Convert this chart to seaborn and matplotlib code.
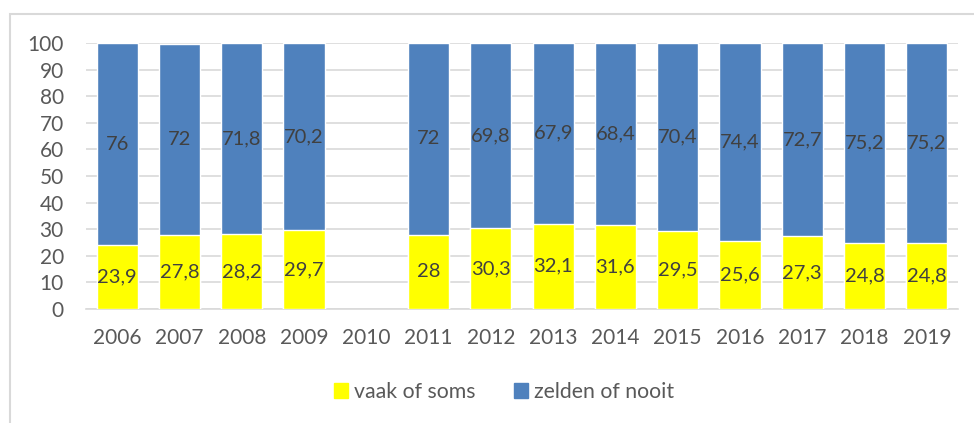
import matplotlib
matplotlib.use("Agg")
import matplotlib.pyplot as plt
import seaborn as sns
import numpy as np
import pandas as pd
from matplotlib.patches import Rectangle, Patch

# dati
jaren = ["2006", "2007", "2008", "2009", "2010", "2011", "2012",
         "2013", "2014", "2015", "2016", "2017", "2018", "2019"]
vaak = [23.9, 27.8, 28.2, 29.7, np.nan, 28, 30.3, 32.1, 31.6, 29.5, 25.6, 27.3, 24.8, 24.8]
zelden = [76, 72, 71.8, 70.2, np.nan, 72, 69.8, 67.9, 68.4, 70.4, 74.4, 72.7, 75.2, 75.2]

geel = "#FFFF00"
blauw = "#4F81BD"
tekst = "#595959"

df = pd.DataFrame({"jaar": jaren, "vaak": vaak, "zelden": zelden})
df["totaal"] = df["vaak"] + df["zelden"]

sns.set_style("white")
plt.rcParams["font.family"] = ["Lato", "DejaVu Sans"]

fig = plt.figure(figsize=(9.74, 4.23), dpi=100)
ax = fig.add_axes([86 / 974, 1 - 309 / 423, (958 - 86) / 974, (309 - 43) / 423])

# rand om de grafiek
fig.patches.append(Rectangle((10 / 974, -0.2), 1.1, 1.2 - 14 / 423,
                             transform=fig.transFigure, fill=False,
                             edgecolor="#d9d9d9", linewidth=1.5, zorder=0))

d = df.dropna()
sns.barplot(data=d, x="jaar", y="totaal", order=jaren, color=blauw,
            width=0.66, saturation=1, ax=ax, zorder=3)
sns.barplot(data=d, x="jaar", y="vaak", order=jaren, color=geel,
            width=0.66, saturation=1, ax=ax, zorder=3)


def fmt(v):
    if float(v).is_integer():
        return str(int(v))
    return f"{v:.1f}".replace(".", ",")


for i, (v, z) in enumerate(zip(vaak, zelden)):
    if np.isnan(v):
        continue
    ax.text(i, v / 2, fmt(v), ha="center", va="center", fontsize=14.5, color="#404040", zorder=5)
    ax.text(i, v + z / 2, fmt(z), ha="center", va="center", fontsize=14.5, color="#404040", zorder=5)

ax.set_ylim(0, 100)
ax.set_xlim(-0.5, len(jaren) - 0.5)
ax.set_yticks(range(0, 101, 10))
ax.yaxis.grid(True, color="#d9d9d9", linewidth=1.2, zorder=0)
ax.set_axisbelow(True)
for s in ["top", "right", "left"]:
    ax.spines[s].set_visible(False)
ax.spines["bottom"].set_color("#d9d9d9")
ax.spines["bottom"].set_linewidth(1.2)
ax.tick_params(axis="both", length=0, labelsize=15, colors=tekst)
ax.tick_params(axis="y", pad=16)
ax.tick_params(axis="x", pad=14)
ax.set_xlabel("")
ax.set_ylabel("")

handles = [Patch(color=geel, label="vaak of soms"), Patch(color=blauw, label="zelden of nooit")]
leg = fig.legend(handles=handles, loc="center", bbox_to_anchor=(504 / 974, 1 - 392 / 423),
                 ncol=2, frameon=False, fontsize=15.3, handlelength=0.65, handleheight=0.65,
                 handletextpad=0.3, columnspacing=1.8)
for t in leg.get_texts():
    t.set_color(tekst)

fig.savefig("out.png", dpi=100)
